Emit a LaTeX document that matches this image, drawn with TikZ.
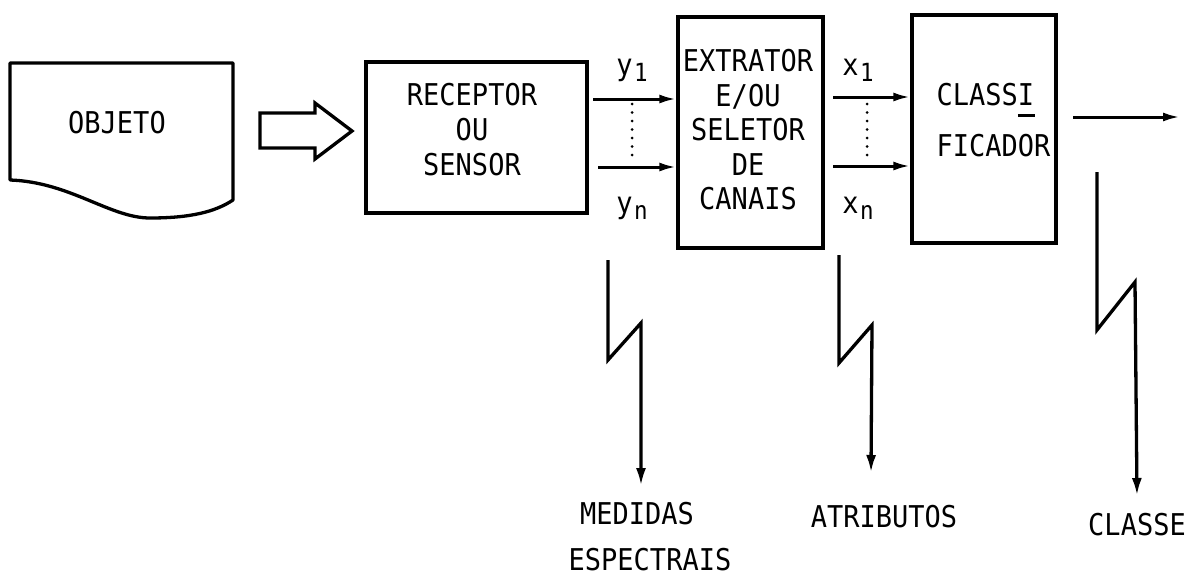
\documentclass[tikz,border=0pt]{standalone}
\usepackage{fontspec}
\setmainfont[FakeStretch=0.9]{DejaVu Sans Mono}
\usetikzlibrary{arrows.meta,calc}
\newcommand{\subidx}[1]{\kern1.5pt\raisebox{-6pt}{\fontsize{25}{25}\selectfont #1}}
\newcommand{\ulI}{\makebox[0pt][l]{\rule[-11pt]{17pt}{2.8pt}}I}
\begin{document}
\begin{tikzpicture}[x=1pt,y=-1pt,
  line width=3.3pt,
  box/.style={draw, line width=3.3pt, inner sep=0pt, rectangle},
  txt/.style={inner sep=0pt, font=\fontsize{30}{35}\selectfont, align=center},
  sig/.style={-{Latex[length=17pt,width=9pt]}, line width=3pt},
  dotline/.style={line width=3pt, line cap=round, dash pattern=on 0pt off 8.5pt},
  bolt/.style={-{Latex[length=18pt,width=10pt]}, line width=3.3pt, line join=miter},
]
\useasboundingbox (0,0) rectangle (1200,579);

% OBJETO (document shape)
\draw[line width=3.3pt, line join=round] (10,63) -- (233,63) -- (233,200)
  .. controls (215,212) and (190,218) .. (150,218)
  .. controls (110,218) and (70,182) .. (10,180) -- cycle;
\node[txt] (objeto) at (117,123) {OBJETO};

% block arrow
\draw[line width=3.3pt, line join=miter] (260,113) -- (315,113) -- (315,103) -- (352,131)
  -- (315,159) -- (315,148) -- (260,148) -- cycle;

% RECEPTOR OU SENSOR
\node[box, minimum width=221pt, minimum height=151pt] (rec) at (476.5,137.5) {};
\node[txt] (rectxt) at (472,130) {RECEPTOR\\OU\\SENSOR};

% EXTRATOR
\node[box, minimum width=145pt, minimum height=231pt] (ext) at (750.5,132.5) {};
\node[txt, font=\fontsize{30}{34.5}\selectfont] (exttxt) at (748,130)
  {EXTRATOR\\E/OU\\SELETOR\\DE\hspace*{16pt}\\CANAIS};

% CLASSIFICADOR
\node[box, minimum width=144pt, minimum height=228pt] (cls) at (984,129) {};
\node[txt, align=left, anchor=west, font=\fontsize{30}{51}\selectfont] (clstxt)
  at (935,120.5) {CLASS\ulI\\FICADOR};

% y arrows
\coordinate (y1s) at (593,99);
\coordinate (yns) at (598,167);
\draw[sig] (y1s) -- (y1s -| ext.west);
\draw[sig] (yns) -- (yns -| ext.west);
\coordinate (yd1) at (632,104);
\coordinate (yd2) at (632,158);
\draw[dotline] (yd1) -- (yd2);
\node[txt] (ylab1) at (632,70) {y\subidx{1}};
\node[txt] (ylabn) at (632,208) {y\subidx{n}};

% x arrows
\coordinate (x1s) at (833,97);
\coordinate (xns) at (833,166);
\draw[sig] (x1s) -- (x1s -| cls.west);
\draw[sig] (xns) -- (xns -| cls.west);
\coordinate (xd1) at (867,104);
\coordinate (xd2) at (867,157);
\draw[dotline] (xd1) -- (xd2);
\node[txt] (xlab1) at (858,70) {x\subidx{1}};
\node[txt] (xlabn) at (858,208) {x\subidx{n}};

% output arrow
\coordinate (outs) at (1073,117);
\coordinate (oute) at (1180,117);
\draw[sig] (outs) -- (oute);

% lightning arrows
\coordinate (b1a) at (608,260);
\coordinate (b1b) at (608,360);
\coordinate (b1c) at (641,323);
\coordinate (b1d) at (641,486);
\draw[bolt] (b1a) -- (b1b) -- (b1c) -- (b1d);

\coordinate (b2a) at (839,255);
\coordinate (b2b) at (839,363);
\coordinate (b2c) at (872,325);
\coordinate (b2d) at (871,473);
\draw[bolt] (b2a) -- (b2b) -- (b2c) -- (b2d);

\coordinate (b3a) at (1097,172);
\coordinate (b3b) at (1097,330);
\coordinate (b3c) at (1135,282);
\coordinate (b3d) at (1137,496);
\draw[bolt] (b3a) -- (b3b) -- (b3c) -- (b3d);

% labels
\node[txt] (med) at (637,514) {MEDIDAS};
\node[txt] (esp) at (650,560) {ESPECTRAIS};
\node[txt] (atr) at (884,517) {ATRIBUTOS};
\node[txt] (cla) at (1137,525) {CLASSE};
\end{tikzpicture}
\end{document}
